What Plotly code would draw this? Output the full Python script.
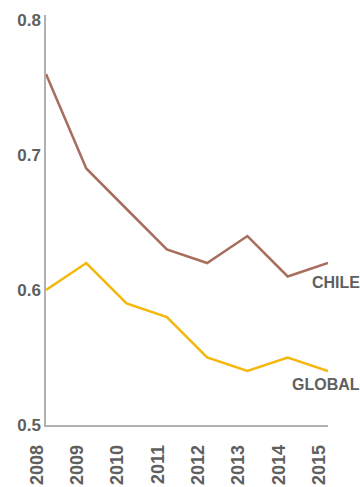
import plotly.graph_objects as go

years = [2008, 2009, 2010, 2011, 2012, 2013, 2014, 2015]
chile = [0.76, 0.69, 0.66, 0.63, 0.62, 0.64, 0.61, 0.62]
global_ = [0.60, 0.62, 0.59, 0.58, 0.55, 0.54, 0.55, 0.54]
y_ticks = [0.5, 0.6, 0.7, 0.8]

GREY = "#5f5f5f"
FONT = "Liberation Sans"

fig = go.Figure()
fig.add_trace(go.Scatter(x=years, y=chile, mode="lines",
                         line=dict(color="#a86d5c", width=2.5), name="CHILE"))
fig.add_trace(go.Scatter(x=years, y=global_, mode="lines",
                         line=dict(color="#f3b80a", width=2.5), name="GLOBAL"))

fig.add_annotation(x=years[-1], y=chile[-1], text="<b>CHILE</b>", showarrow=False,
                   xanchor="left", yanchor="top", xshift=-18, yshift=-9,
                   font=dict(family=FONT, size=16, color=GREY))
fig.add_annotation(x=years[-1], y=global_[-1], text="<b>GLOBAL</b>", showarrow=False,
                   xanchor="left", yanchor="top", xshift=-38, yshift=-3,
                   font=dict(family=FONT, size=16, color=GREY))

fig.update_layout(
    width=360, height=487,
    margin=dict(l=46, r=32, t=15, b=62, autoexpand=False),
    paper_bgcolor="white", plot_bgcolor="white",
    showlegend=False,
    font=dict(family=FONT, color=GREY),
)
fig.update_xaxes(
    range=[2008, 2015], tickvals=years, ticktext=[f"<b>{y}</b>" for y in years],
    tickangle=-90, showgrid=False, zeroline=False, automargin=False,
    showline=True, linecolor="#b0b0b0", linewidth=1.5,
    tickfont=dict(family=FONT, size=18, color=GREY),
    ticks="", ticklabelshift=-9, ticklabelstandoff=11,
)
fig.update_yaxes(
    range=[0.5, 0.8037], tickvals=y_ticks, ticktext=[f"<b>{v}</b>" for v in y_ticks],
    showgrid=False, zeroline=False, automargin=False,
    showline=True, linecolor="#b0b0b0", linewidth=1.5,
    tickfont=dict(family=FONT, size=17, color=GREY),
    ticks="", ticklabelstandoff=0,
)

fig.write_html("out.html")
